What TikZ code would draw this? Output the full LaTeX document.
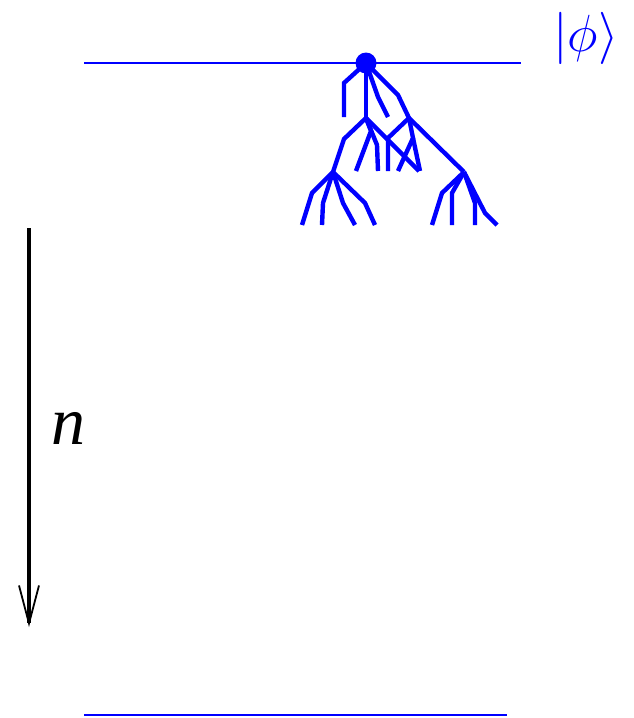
\documentclass[tikz,border=0pt]{standalone}
\usepackage{fontspec}
\setmainfont{Liberation Serif}
\usetikzlibrary{arrows.meta}

\tikzset{
  branche/.style={blue, line width=4.4pt, line join=miter},
  niveau/.style={blue, line width=1.2pt},
}

\begin{document}
\begin{tikzpicture}[x=1pt,y=-1pt]
        \useasboundingbox (0,0) rectangle (633,718);

        % Niveaux haut et bas
        \draw[niveau] (84,63) -- (521,63);
        \draw[niveau] (84,715) -- (507,715);
        \node[blue, font=\Huge] (etat) at (586,38) {\scalebox{2.1}{$|\phi\rangle$}};

        % Points de branchement
        \coordinate (R) at (366,63);
        \coordinate (A) at (366,118);
        \coordinate (B) at (409,118);
        \coordinate (C) at (333,172);
        \coordinate (D) at (464,172);

        % Premiere generation
        \draw[branche] (R) -- (344,83) -- (344,117);
        \draw[branche] (R) -- (A);
        \draw[branche] (R) -- (378,97) -- (388,117);
        \draw[branche] (R) -- (398,95) -- (B);
        \fill[blue] (R) circle (10.5);

        % Descendants de A
        \draw[branche] (A) -- (344,139) -- (C);
        \draw[branche] (A) -- (371,131) -- (356,171);
        \draw[branche] (A) -- (377,145) -- (378,171);
        \draw[branche] (A) -- (419,171);

        % Descendants de B
        \draw[branche] (B) -- (388,138) -- (388,171);
        \draw[branche] (B) -- (413,138) -- (398,171);
        \draw[branche] (413,138) -- (420,171);
        \draw[branche] (B) -- (D);

        % Descendants de C
        \draw[branche] (C) -- (312,193) -- (302,225);
        \draw[branche] (C) -- (323,203) -- (322,225);
        \draw[branche] (C) -- (343,203) -- (355,225);
        \draw[branche] (C) -- (365,203) -- (375,225);

        % Descendants de D
        \draw[branche] (D) -- (442,193) -- (432,225);
        \draw[branche] (D) -- (452,193) -- (452,225);
        \draw[branche] (D) -- (475,203) -- (475,225);
        \draw[branche] (D) -- (485,213) -- (497,225);

        % Fleche du temps n
        \coordinate (haut) at (29,228);
        \coordinate (bas) at (29,627);
        \draw[line width=4.2pt, -{Straight Barb[length=38pt,width=20pt,line width=1.8pt]}] (haut) -- (bas);
        \node[font=\fontsize{68}{72}\selectfont\itshape] (temps) at (68,428) {n};

    \end{tikzpicture}
\end{document}
